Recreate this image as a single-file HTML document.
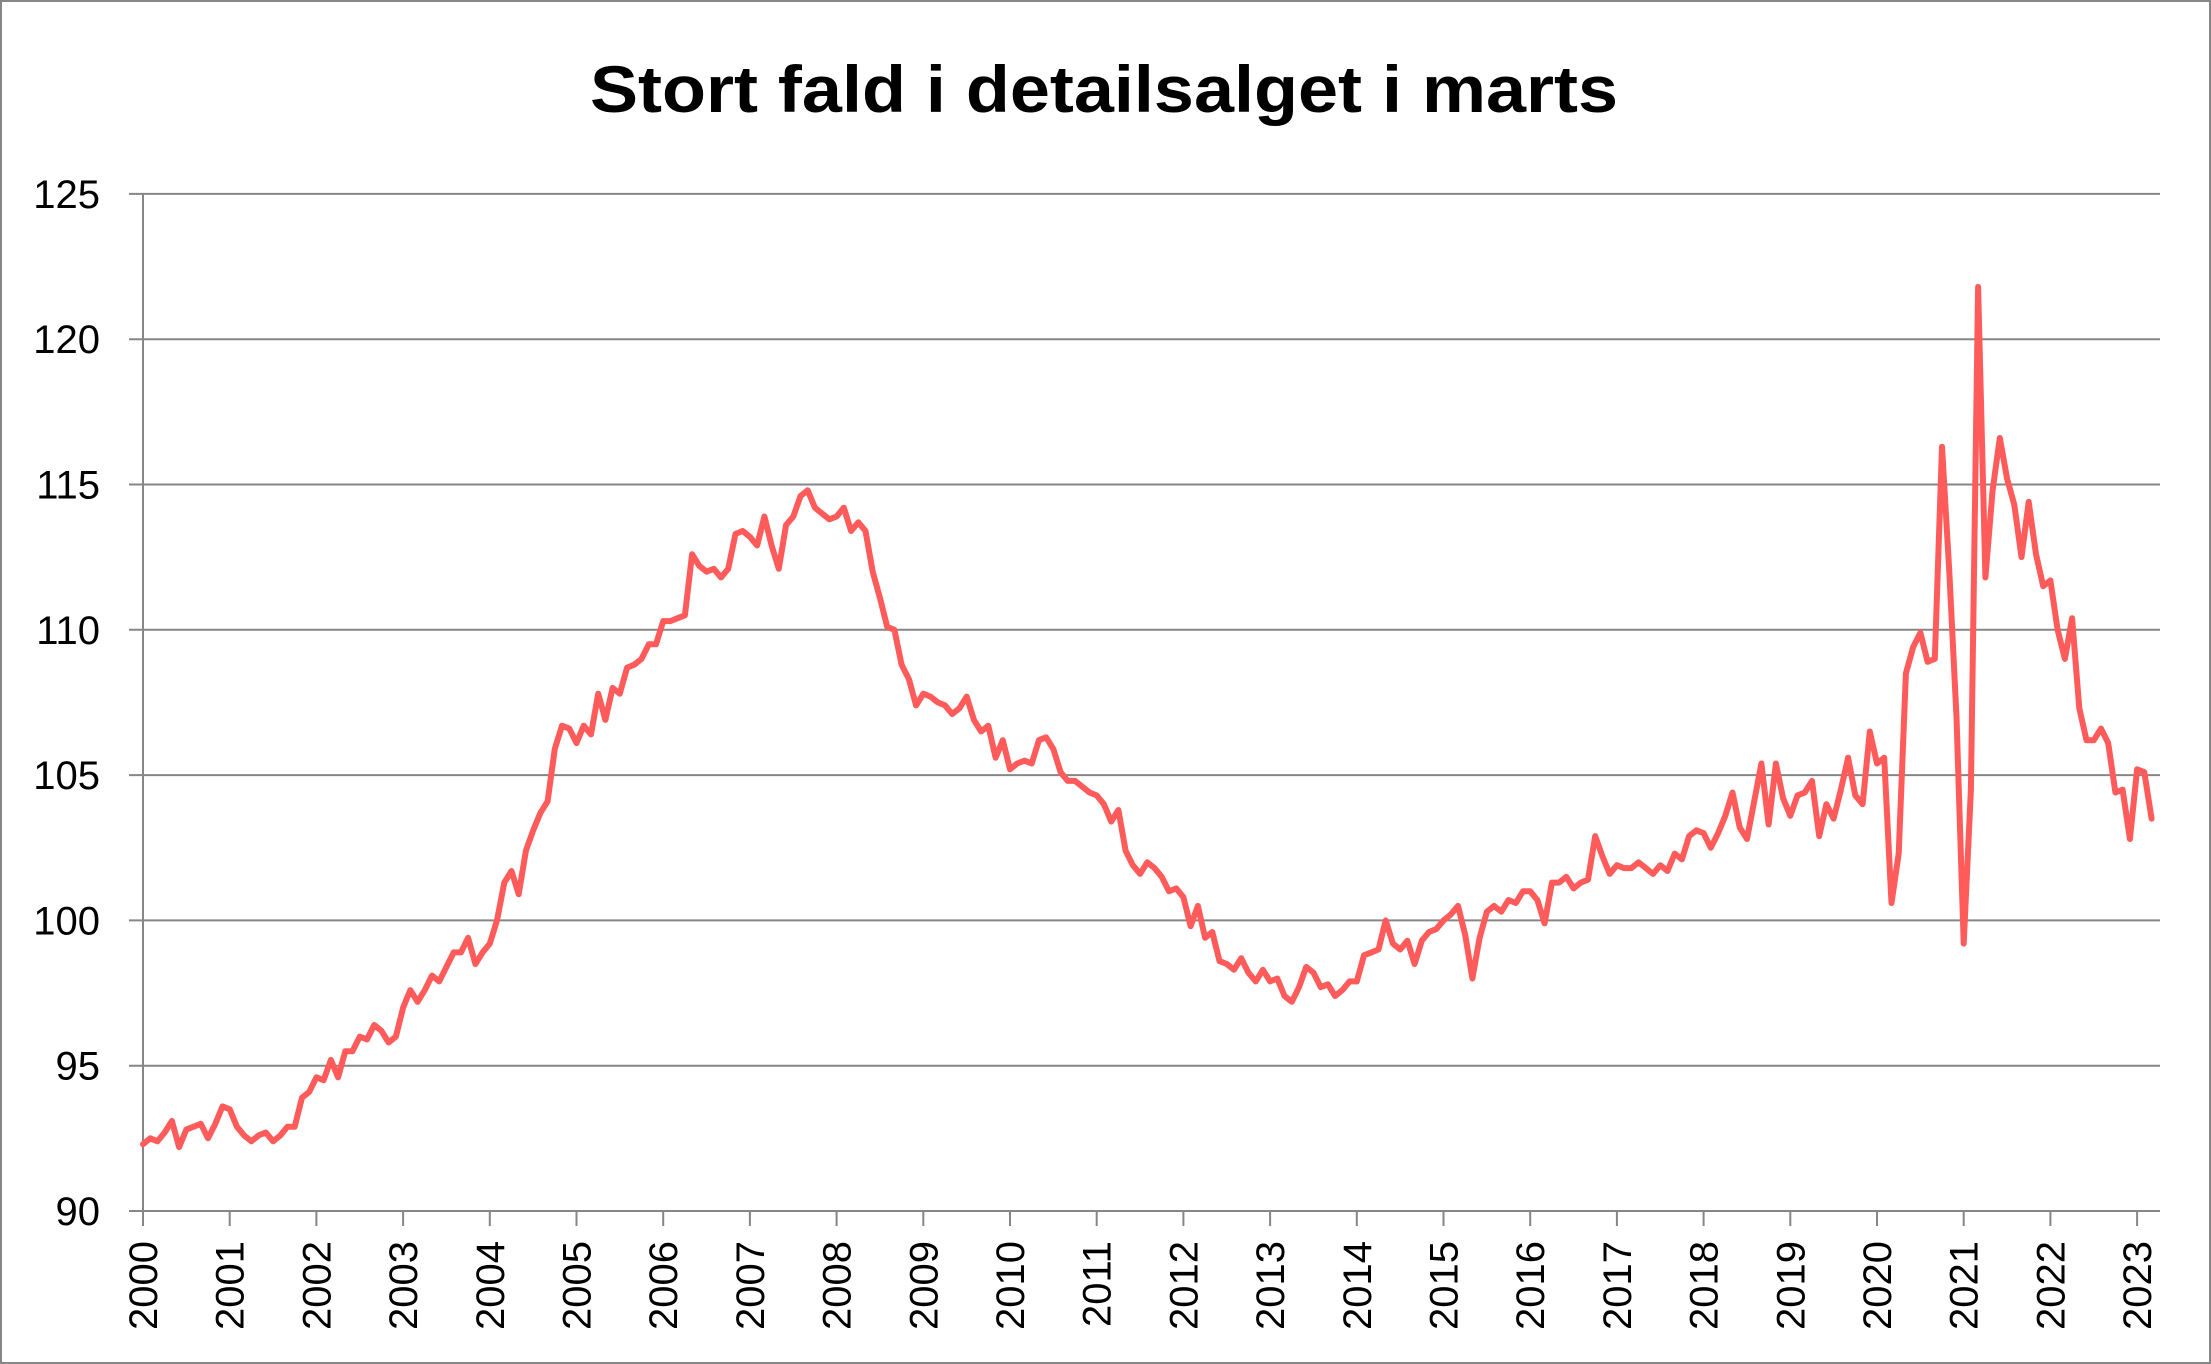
<!DOCTYPE html>
<html><head><meta charset="utf-8"><style>
html,body{margin:0;padding:0;background:#fff}
svg{display:block;font-family:"Liberation Sans",sans-serif}
</style></head><body>
<svg id="chart" width="2211" height="1364" viewBox="0 0 2211 1364">
<rect x="1" y="1" width="2209" height="1362" fill="#fff" stroke="#868686" stroke-width="2"/>
<text x="1104" y="112" text-anchor="middle" font-size="66" font-weight="bold" textLength="1028" lengthAdjust="spacingAndGlyphs">Stort fald i detailsalget i marts</text>
<g id="grid"></g><g id="xaxis"></g><g id="yaxis"></g><g id="series"></g>
</svg>
<script>
const yTicks=[90,95,100,105,110,115,120,125];
const xYears=[2000,2001,2002,2003,2004,2005,2006,2007,2008,2009,2010,2011,2012,2013,2014,2015,2016,2017,2018,2019,2020,2021,2022,2023];
const values=[
92.3,92.5,92.4,92.7,93.1,92.2,92.8,92.9,93.0,92.5,93.0,93.6,
93.5,92.9,92.6,92.4,92.6,92.7,92.4,92.6,92.9,92.9,93.9,94.1,
94.6,94.5,95.2,94.6,95.5,95.5,96.0,95.9,96.4,96.2,95.8,96.0,
97.0,97.6,97.2,97.6,98.1,97.9,98.4,98.9,98.9,99.4,98.5,98.9,
99.2,100.0,101.3,101.7,100.9,102.4,103.1,103.7,104.1,105.9,106.7,106.6,
106.1,106.7,106.4,107.8,106.9,108.0,107.8,108.7,108.8,109.0,109.5,109.5,
110.3,110.3,110.4,110.5,112.6,112.2,112.0,112.1,111.8,112.1,113.3,113.4,
113.2,112.9,113.9,112.9,112.1,113.6,113.9,114.6,114.8,114.2,114.0,113.8,
113.9,114.2,113.4,113.7,113.4,112.0,111.1,110.1,110.0,108.8,108.3,107.4,
107.8,107.7,107.5,107.4,107.1,107.3,107.7,106.9,106.5,106.7,105.6,106.2,
105.2,105.4,105.5,105.4,106.2,106.3,105.9,105.1,104.8,104.8,104.6,104.4,
104.3,104.0,103.4,103.8,102.4,101.9,101.6,102.0,101.8,101.5,101.0,101.1,
100.8,99.8,100.5,99.4,99.6,98.6,98.5,98.3,98.7,98.2,97.9,98.3,
97.9,98.0,97.4,97.2,97.7,98.4,98.2,97.7,97.8,97.4,97.6,97.9,
97.9,98.8,98.9,99.0,100.0,99.2,99.0,99.3,98.5,99.3,99.6,99.7,
100.0,100.2,100.5,99.5,98.0,99.4,100.3,100.5,100.3,100.7,100.6,101.0,
101.0,100.7,99.9,101.3,101.3,101.5,101.1,101.3,101.4,102.9,102.2,101.6,
101.9,101.8,101.8,102.0,101.8,101.6,101.9,101.7,102.3,102.1,102.9,103.1,
103.0,102.5,103.0,103.6,104.4,103.2,102.8,104.1,105.4,103.3,105.4,104.2,
103.6,104.3,104.4,104.8,102.9,104.0,103.5,104.5,105.6,104.3,104.0,106.5,
105.4,105.6,100.6,102.3,108.5,109.4,109.9,108.9,109.0,116.3,112.0,107.0,
99.2,104.5,121.8,111.8,114.8,116.6,115.2,114.3,112.5,114.4,112.6,111.5,
111.7,110.0,109.0,110.4,107.3,106.2,106.2,106.6,106.1,104.4,104.5,102.8,
105.2,105.1,103.5];
const NS="http://www.w3.org/2000/svg";
const X0=143,YW=86.7,Y0=1211,YPX=145.3,XR=2160;
function xs(m){return X0+m*YW/12;}
function ys(v){return Y0-(v-90)/5*YPX;}
function mk(tag,attrs,parent){const e=document.createElementNS(NS,tag);for(const k in attrs)e.setAttribute(k,attrs[k]);parent.appendChild(e);return e;}
const grid=document.getElementById('grid'),ya=document.getElementById('yaxis'),xa=document.getElementById('xaxis'),ser=document.getElementById('series');
yTicks.forEach(t=>{
  const l=mk('line',{x1:129,x2:XR,y1:ys(t),y2:ys(t),stroke:'#868686','stroke-width':2},grid);
  
  
  const tx=mk('text',{x:100,y:ys(t)+14,'text-anchor':'end','font-size':40,fill:'#000'},ya);
  tx.textContent=t;
  
  
});
const ax=mk('line',{x1:X0,x2:X0,y1:ys(125),y2:Y0,stroke:'#868686','stroke-width':2},xa);


xYears.forEach((yr,i)=>{
  const x=xs(i*12);
  const tk=mk('line',{x1:x,x2:x,y1:Y0,y2:Y0+15,stroke:'#868686','stroke-width':2},xa);
  
  
  const tx=mk('text',{x:0,y:0,'text-anchor':'end','font-size':40,transform:'translate('+(x+14)+','+(Y0+30)+') rotate(-90)'},xa);
  tx.textContent=yr;
  
  
});
const pts=values.map((v,i)=>xs(i).toFixed(1)+','+ys(v).toFixed(1)).join(' ');
const pl=mk('polyline',{points:pts,fill:'none',stroke:'#FF5B5B','stroke-width':6,'stroke-linejoin':'round','stroke-linecap':'round'},ser);


</script>
</body></html>
